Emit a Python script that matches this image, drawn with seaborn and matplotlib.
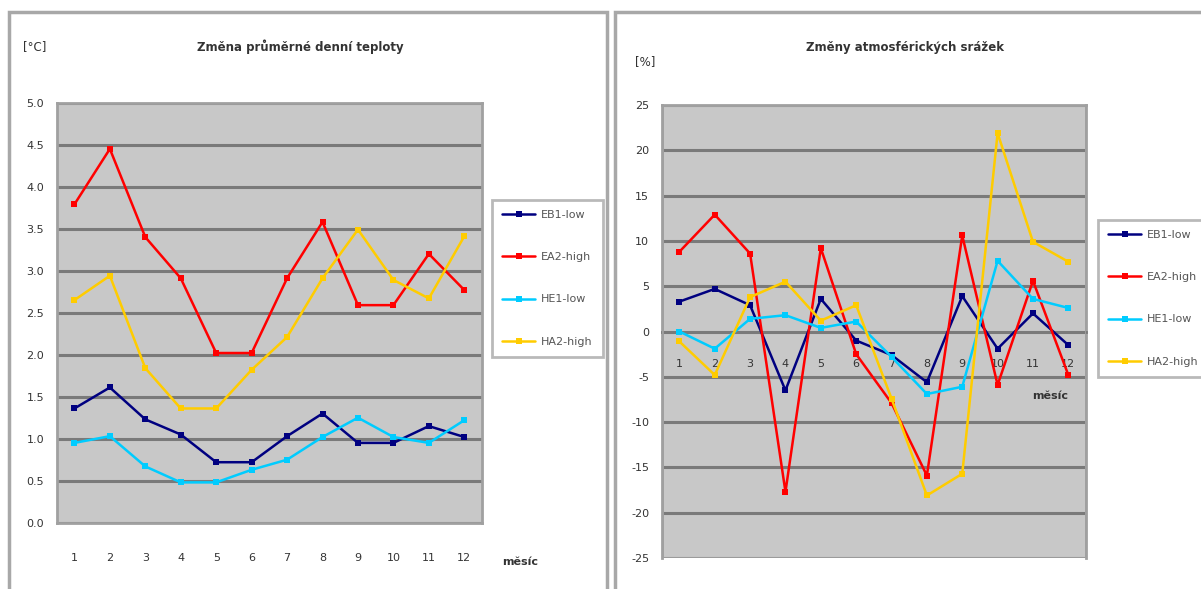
import matplotlib
matplotlib.use("Agg")
import matplotlib.pyplot as plt
import seaborn as sns
import pandas as pd
from matplotlib.patches import Rectangle

months = list(range(1, 13))
series_names = ["EB1-low", "EA2-high", "HE1-low", "HA2-high"]
colors = ["#000080", "#FF0000", "#00CCFF", "#FFCC00"]

temp_eb1 = [1.36, 1.61, 1.23, 1.05, 0.72, 0.72, 1.03, 1.30, 0.95, 0.95, 1.15, 1.02]
temp_ea2 = [3.79, 4.45, 3.40, 2.91, 2.02, 2.02, 2.91, 3.58, 2.59, 2.59, 3.20, 2.77]
temp_he1 = [0.95, 1.03, 0.67, 0.48, 0.48, 0.63, 0.75, 1.02, 1.25, 1.02, 0.95, 1.22]
temp_ha2 = [2.65, 2.94, 1.84, 1.36, 1.36, 1.82, 2.21, 2.91, 3.49, 2.89, 2.67, 3.41]

prec_eb1 = [3.3, 4.7, 2.9, -6.5, 3.6, -1.0, -2.6, -5.6, 3.9, -1.9, 2.0, -1.5]
prec_ea2 = [8.8, 12.9, 8.6, -17.7, 9.2, -2.5, -7.9, -15.9, 10.6, -5.9, 5.6, -4.8]
prec_he1 = [0.0, -1.9, 1.4, 1.8, 0.4, 1.1, -2.8, -6.9, -6.1, 7.8, 3.6, 2.6]
prec_ha2 = [-1.1, -4.8, 3.8, 5.5, 1.2, 2.9, -7.4, -18.1, -15.7, 21.9, 9.9, 7.7]

temp_ticks = [0.0, 0.5, 1.0, 1.5, 2.0, 2.5, 3.0, 3.5, 4.0, 4.5, 5.0]
prec_ticks = [25, 20, 15, 10, 5, 0, -5, -10, -15, -20, -25]

title_left = "Změna průměrné denní teploty"
title_right = "Změny atmosférických srážek"
unit_left = "[°C]"
unit_right = "[%]"
xlabel = "měsíc"

sns.set_style("white")
plt.rcParams["font.family"] = ["Liberation Sans Narrow", "DejaVu Sans"]

W, H = 1201, 589
fig = plt.figure(figsize=(W / 100, H / 100), dpi=100)
fig.patch.set_facecolor("white")

def long_df(vals):
    rows = []
    for name, v in zip(series_names, vals):
        for m, y in zip(months, v):
            rows.append({"month": m, "value": y, "series": name})
    return pd.DataFrame(rows)

df_t = long_df([temp_eb1, temp_ea2, temp_he1, temp_ha2])
df_p = long_df([prec_eb1, prec_ea2, prec_he1, prec_ha2])

def px_axes(x0, x1, ytop, ybot):
    return fig.add_axes([x0 / W, (H - ybot) / H, (x1 - x0) / W, (ybot - ytop) / H])

# panel frames
fig.patches.append(Rectangle((9 / W, -0.1), (607 - 9) / W, (H - 12) / H + 0.1, fill=False,
                             ec="#A8A8A8", lw=2.5, transform=fig.transFigure, figure=fig))
fig.patches.append(Rectangle((615 / W, -0.1), 0.6, (H - 12) / H + 0.1, fill=False,
                             ec="#A8A8A8", lw=2.5, transform=fig.transFigure, figure=fig))

axL = px_axes(56.7, 482, 102.7, 522.7)
axR = px_axes(661.7, 1086, 105, 558)

txt = "#333333"
for ax, df in ((axL, df_t), (axR, df_p)):
    ax.set_facecolor("#C8C8C8")
    sns.lineplot(data=df, x="month", y="value", hue="series", hue_order=series_names,
                 palette=colors, marker="s", markersize=5, markeredgewidth=0,
                 linewidth=1.8, ax=ax, legend=False, zorder=3)
    ax.set_xlim(0.5, 12.5)
    ax.set_xlabel("")
    ax.set_ylabel("")
    ax.grid(axis="y", color="#7A7A7A", lw=2.2, zorder=1)
    ax.grid(axis="x", visible=False)
    ax.set_axisbelow(True)
    for s in ax.spines.values():
        s.set_color("#A0A0A0")
        s.set_linewidth(2)

# right chart: move x axis to zero first (this resets ticks)
axR.spines["bottom"].set_position(("data", 0))
axR.spines["bottom"].set_color("#7A7A7A")

for ax in (axL, axR):
    ax.set_xticks(months)
    ax.set_xticklabels([str(m) for m in months], fontsize=8, color=txt)
    ax.tick_params(axis="y", direction="out", length=6, width=1.2, color="#A0A0A0",
                   labelsize=8, labelcolor=txt, pad=3)

# left chart
axL.set_ylim(0, 5)
axL.set_yticks(temp_ticks)
axL.set_yticklabels([f"{t:.1f}" for t in temp_ticks])
axL.tick_params(axis="x", length=0, pad=22, labelsize=8)

# right chart
axR.set_ylim(-25, 25)
axR.set_yticks(prec_ticks)
axR.set_yticklabels([str(t) for t in prec_ticks])
axR.tick_params(axis="x", length=0, pad=20, labelsize=8)
axR.add_patch(Rectangle((0, 0), 1, 1, transform=axR.transAxes, fill=False,
                        ec="#A0A0A0", lw=2, zorder=5))

# legends
handles = [plt.Line2D([], [], color=c, marker="s", markersize=5, markeredgewidth=0, lw=1.8)
           for c in colors]
for ax, (lx, ly) in ((axL, (492, 200)), (axR, (1098, 220))):
    leg = ax.legend(handles, series_names, loc="upper left",
                    bbox_to_anchor=(lx / W, 1 - ly / H), bbox_transform=fig.transFigure,
                    frameon=True, fancybox=False, fontsize=8, labelspacing=2.9,
                    handlelength=3.0, handletextpad=0.5, borderpad=0.9, borderaxespad=0)
    leg.get_frame().set_edgecolor("#A8A8A8")
    leg.get_frame().set_linewidth(2)
    for t in leg.get_texts():
        t.set_color("#555555")

# titles and labels
fig.text(300 / W, 1 - 47 / H, title_left, ha="center", va="center", fontsize=8.5,
         color=txt, fontweight="bold")
fig.text(905 / W, 1 - 47 / H, title_right, ha="center", va="center", fontsize=8.5,
         color=txt, fontweight="bold")
fig.text(35 / W, 1 - 47 / H, unit_left, ha="center", va="center", fontsize=8.5, color=txt)
fig.text(645 / W, 1 - 62 / H, unit_right, ha="center", va="center", fontsize=8.5, color=txt)
fig.text(520 / W, 1 - 562 / H, xlabel, ha="center", va="center", fontsize=8,
         color=txt, fontweight="bold")
fig.text(1050 / W, 1 - 396 / H, xlabel, ha="center", va="center", fontsize=8,
         color=txt, fontweight="bold")

fig.savefig("out.png", dpi=100, facecolor="white")
